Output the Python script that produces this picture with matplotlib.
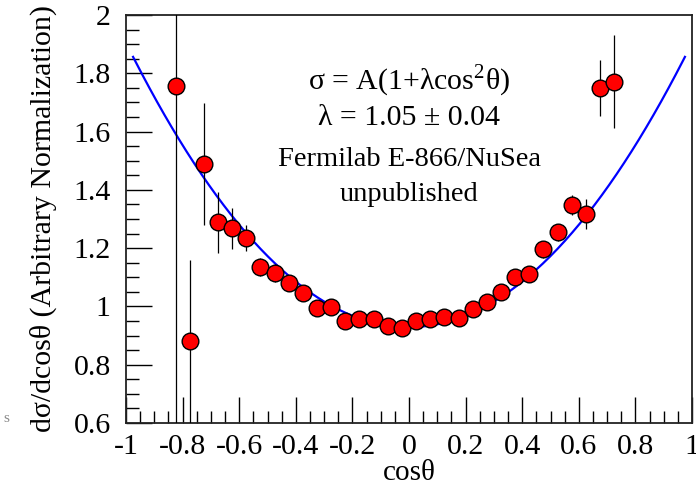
"""
E-866/NuSea angular distribution: dsigma/dcos(theta) with A(1+lambda cos^2) fit.
Writes out.png
"""
import numpy as np
import matplotlib
matplotlib.use("Agg")
import matplotlib.pyplot as plt
from matplotlib.ticker import MultipleLocator, FuncFormatter

plt.rcParams["font.family"] = ["Liberation Serif", "DejaVu Serif"]
plt.rcParams["axes.unicode_minus"] = False
plt.rcParams["mathtext.fontset"] = "custom"
plt.rcParams["mathtext.rm"] = "Liberation Serif"

# bin centres in cos(theta)
cos_theta = [-0.825, -0.775, -0.725, -0.675, -0.625, -0.575, -0.525, -0.475,
             -0.425, -0.375, -0.325, -0.275, -0.225, -0.175, -0.125, -0.075,
             -0.025, 0.025, 0.075, 0.125, 0.175, 0.225, 0.275, 0.325,
             0.375, 0.425, 0.475, 0.525, 0.575, 0.625, 0.675, 0.725]
# measured yield (arbitrary normalisation)
dsigma = [1.757, 0.881, 1.489, 1.289, 1.268, 1.234, 1.136, 1.114,
          1.079, 1.045, 0.996, 0.999, 0.950, 0.956, 0.957, 0.933,
          0.927, 0.950, 0.956, 0.964, 0.960, 0.991, 1.015, 1.050,
          1.102, 1.110, 1.196, 1.254, 1.348, 1.316, 1.749, 1.771]
# statistical errors
dsigma_err = [1.30, 0.28, 0.21, 0.105, 0.07, 0.045, 0.03, 0.03,
              0.025, 0.025, 0.02, 0.02, 0.02, 0.02, 0.02, 0.02,
              0.02, 0.02, 0.02, 0.02, 0.02, 0.02, 0.02, 0.025,
              0.025, 0.025, 0.03, 0.03, 0.035, 0.052, 0.097, 0.16]

# fit parameters
A_norm = 0.929
lam = 1.05
lam_err = 0.04
fit_range = (-0.975, 0.975)

fig = plt.figure(figsize=(6.96, 4.92), dpi=100)
ax = fig.add_axes([126/696, 1-423/492, (692-126)/696, (423-15)/492])

xf = np.linspace(fit_range[0], fit_range[1], 300)
ax.plot(xf, A_norm*(1 + lam*xf**2), color="#0000ff", lw=1.6, zorder=2)

ax.errorbar(cos_theta, dsigma, yerr=dsigma_err, fmt="o", ms=12,
            mfc="#ff0000", mec="black", mew=1.0, ecolor="black",
            elinewidth=0.9, capsize=0, zorder=3)

ax.set_xlim(-1, 1)
ax.set_ylim(0.6, 2)
ax.xaxis.set_major_locator(MultipleLocator(0.2))
ax.xaxis.set_minor_locator(MultipleLocator(0.05))
ax.yaxis.set_major_locator(MultipleLocator(0.2))
ax.yaxis.set_minor_locator(MultipleLocator(0.05))
fmt = FuncFormatter(lambda v, p: "%g" % round(v, 2))
ax.xaxis.set_major_formatter(fmt)
ax.yaxis.set_major_formatter(fmt)
ax.tick_params(which="both", direction="in", top=False, right=False,
               width=1.0, labelsize=21.5)
ax.tick_params(axis="x", which="major", length=18.5, pad=8)
ax.tick_params(axis="y", which="major", length=19, pad=11)
ax.tick_params(which="minor", length=9)
for s in ax.spines.values():
    s.set_linewidth(1.3)
    s.set_color("#222222")

ax.set_xlabel("cosθ", fontsize=21, labelpad=0)
ax.set_ylabel("dσ/dcosθ (Arbitrary Normalization)", fontsize=21.5, labelpad=12)

ax.text(0.0, 1.775, r"σ = A(1+λcos$^{2}$θ)", ha="center", va="center", fontsize=21.5)
ax.text(0.0, 1.645, f"λ = {lam:.2f} ± {lam_err:.2f}", ha="center", va="center",
        fontsize=21.5)
ax.text(0.0, 1.505, "Fermilab E-866/NuSea", ha="center", va="center", fontsize=20.5)
ax.text(0.0, 1.385, "unpublished", ha="center", va="center", fontsize=20.5)

fig.text(3/696, 1-418/492, "s", color="#888888", fontsize=11,
         ha="left", va="center")

fig.savefig("out.png", dpi=100)
